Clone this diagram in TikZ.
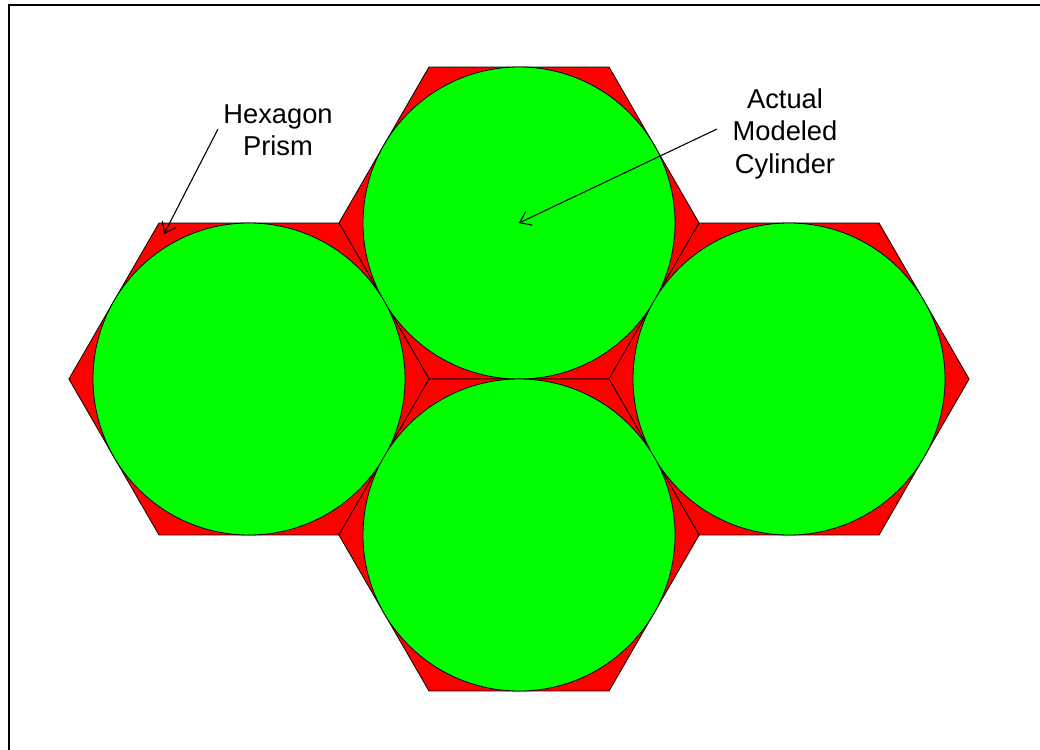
\documentclass[tikz,border=0pt]{standalone}
\usepackage{fontspec}
\setmainfont{Liberation Sans}
\usetikzlibrary{arrows.meta}
\begin{document}
\begin{tikzpicture}[x=1pt,y=-1pt,
  hexa/.style={fill=red,draw=black,line width=0.8pt,line join=miter},
  cyl/.style={fill=green,draw=black,line width=0.8pt},
  lbl/.style={font=\fontsize{27.3}{32.5}\selectfont,align=center,inner sep=0pt},
  ptr/.style={-{Straight Barb[length=10pt,width=15pt]},line width=1.1pt}]
\useasboundingbox (0,0) rectangle (1040,749);
\clip (0,0) rectangle (1040,749);
\draw[line width=2pt] (9,5) rectangle (1080,790);
\coordinate (T) at (519,223);
\coordinate (L) at (249,379);
\coordinate (R) at (789,379);
\coordinate (B) at (519,535);
\foreach \c in {T,L,R,B}{
  \draw[hexa,shift={(\c)}] (0:180.1) -- (60:180.1) -- (120:180.1) -- (180:180.1) -- (240:180.1) -- (300:180.1) -- cycle;
}
\foreach \c in {T,L,R,B}{
  \draw[cyl] (\c) circle[radius=156];
}
\node[lbl] (hex) at (278,130) {Hexagon\\Prism};
\node[lbl] (act) at (785,133.5) {Actual\\Modeled\\Cylinder};
\coordinate (h1) at (218,129);
\coordinate (h2) at (164,234);
\coordinate (a1) at (717,129);
\draw[ptr] (h1) -- (h2);
\draw[ptr] (a1) -- (T);
\end{tikzpicture}
\end{document}
